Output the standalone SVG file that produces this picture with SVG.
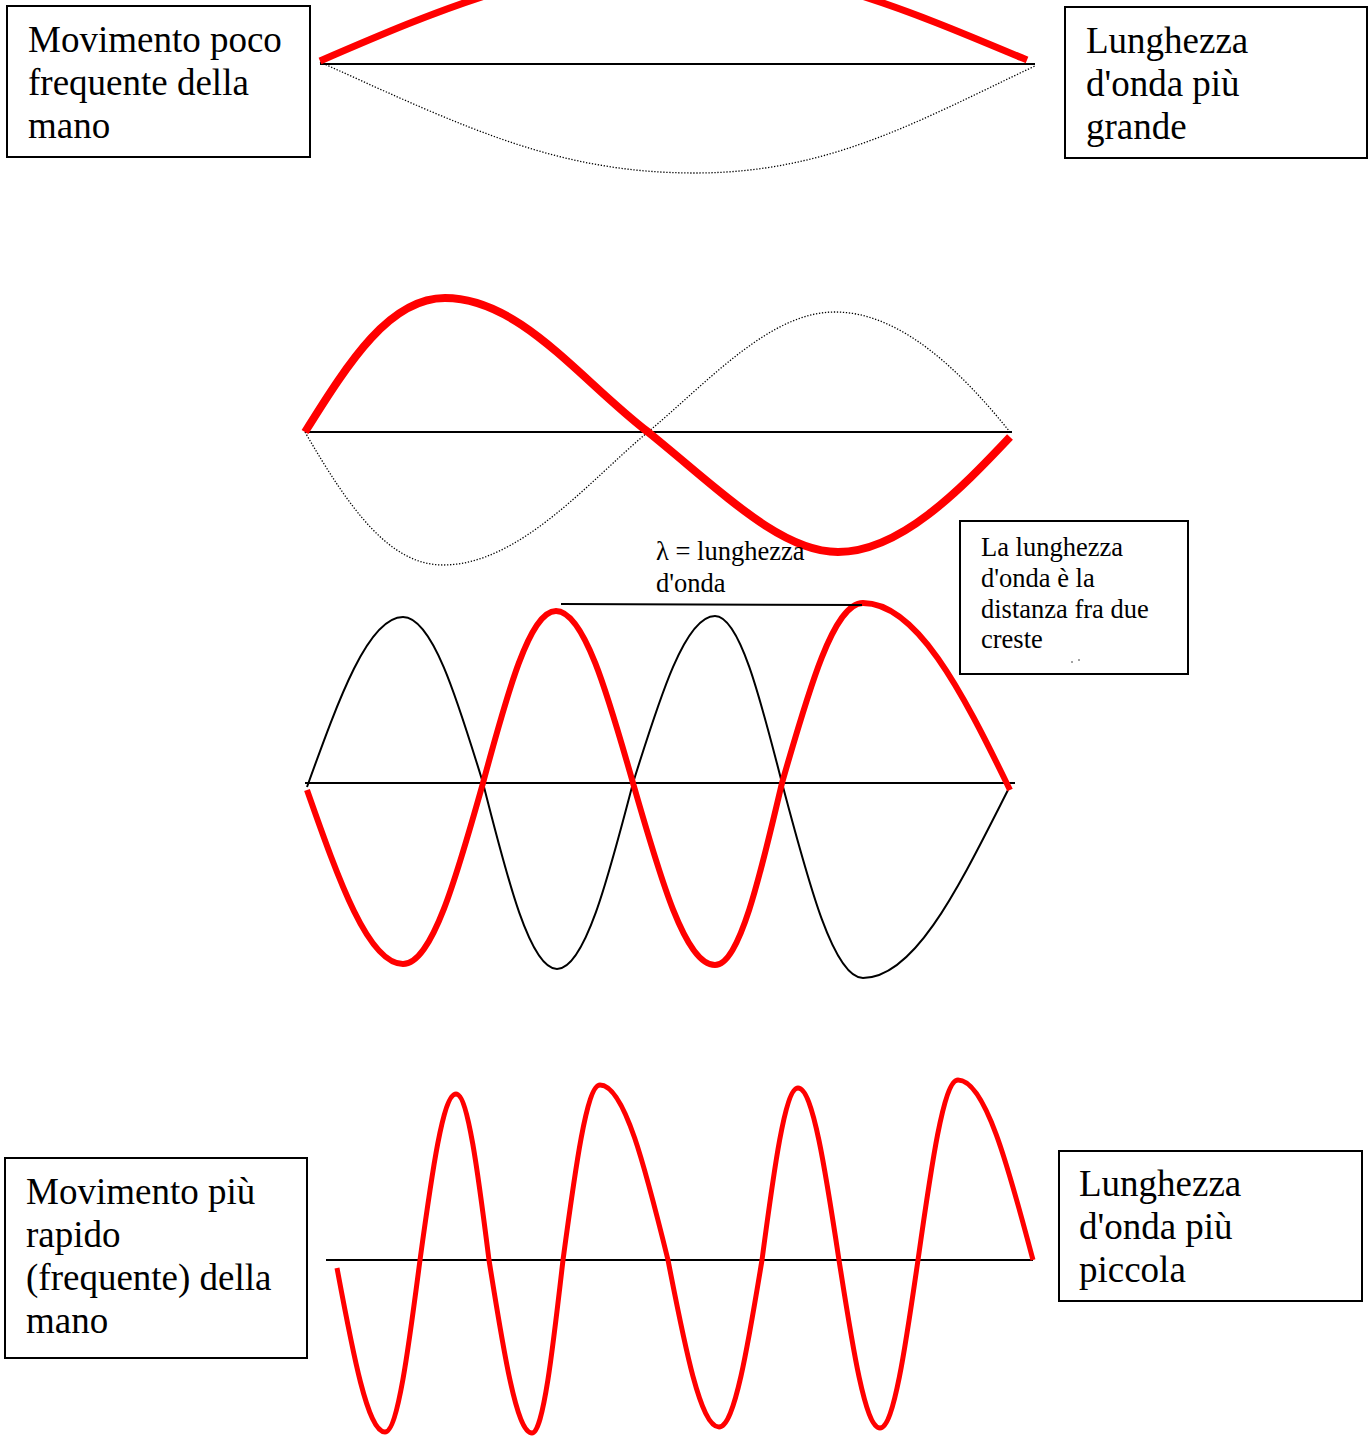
<svg xmlns="http://www.w3.org/2000/svg" width="1369" height="1436" viewBox="0 0 1369 1436">
<style>
.box{fill:#fff;stroke:#000;stroke-width:2}
.big{font-family:"Liberation Serif","Times New Roman",serif;font-size:37px;fill:#000}
.small{font-family:"Liberation Serif","Times New Roman",serif;font-size:26.5px;fill:#000}
.axis{stroke:#000;stroke-width:2;fill:none}
.red{stroke:#ff0000;fill:none;stroke-linejoin:round}
.blk{stroke:#000;stroke-width:2;fill:none}
.dot{stroke:#000;stroke-width:1.3;fill:none;stroke-dasharray:1.3 1.7}
</style>
<rect width="1369" height="1436" fill="#fff"/>
<g id="connectors">
  <!-- top section -->
  <line class="axis" x1="320" y1="64" x2="1035" y2="64"/>
  <path class="dot" d="M320,62 C470,130 560,173 695,173 C830,173 920,120 1035,66"/>
  <path class="red" stroke-width="7" d="M320,61 C438,10 545.6,-36 673,-36 C800.4,-36 908,10 1027,60"/>
  <!-- second section -->
  <line class="axis" x1="305" y1="432" x2="1012" y2="432"/>
  <path class="dot" d="M305,432 C350,510 390,565 443,565 C520,565 590,480 648,432 C710,380 770,312 835,312 C900,312 960,370 1010,432"/>
  <path class="red" stroke-width="8" d="M305,432 C350,360 390,298 445,298 C520,298 580,380 648,432 C720,490 780,552 838,552 C900,552 960,490 1010,437"/>
  <!-- third section -->
  <line class="axis" x1="305" y1="783" x2="1015" y2="783"/>
  <path class="blk" d="M307,787 C339.1,697.7 368.4,617 403,617 C431.9,617 456.3,695.8 483,783 C507.7,880.7 530.3,969 557,969 C584.4,969 607.6,880.7 633,783 C660.4,695.3 685.4,616 715,616 C739.2,616 759.6,695.3 782,783 C809.1,885.4 833.8,978 863,978 C915.3,978 959.5,885.4 1008,790"/>
  <path class="red" stroke-width="6" d="M307,790 C339.1,881.4 368.4,964 403,964 C431.9,964 456.3,878 483,783 C507.4,692.7 529.7,611 556,611 C583.8,611 607.3,692.7 633,783 C660.4,878.6 685.4,965 715,965 C739.2,965 759.6,878.6 782,783 C809.1,688.5 833.8,603 863,603 C916,603 960.9,688.5 1010,790"/>
  <line class="axis" x1="561" y1="604" x2="862" y2="605"/>
  <!-- bottom section -->
  <line class="axis" x1="326" y1="1260" x2="1033" y2="1260"/>
  <path class="red" stroke-width="5" d="M337,1268 C353,1354 367.7,1432 385,1432 C397.6,1432 408.3,1350.3 420,1260 C432,1172.8 443,1094 456,1094 C467.9,1094 478,1172.8 489,1260 C503.4,1350.8 516.5,1433 532,1433 C543.2,1433 552.6,1350.8 563,1260 C575.4,1168.1 586.7,1085 600,1085 C624.5,1085 645.3,1168.1 668,1260 C685,1347.7 700.6,1427 719,1427 C734.5,1427 747.6,1347.7 762,1260 C774,1169.7 785,1088 798,1088 C812.8,1088 825.3,1169.7 839,1260 C852.7,1348.2 865.2,1428 880,1428 C893.7,1428 905.3,1348.2 918,1260 C931.4,1165.5 943.6,1080 958,1080 C985,1080 1008,1165.5 1033,1260"/>
</g>
<g id="box-top-left">
  <rect class="box" x="7" y="6" width="303" height="151"/>
  <text class="big" x="28" y="52">Movimento poco</text>
  <text class="big" x="28" y="95">frequente della</text>
  <text class="big" x="28" y="138">mano</text>
</g>
<g id="box-top-right">
  <rect class="box" x="1065" y="7" width="302" height="151"/>
  <text class="big" x="1086" y="53">Lunghezza</text>
  <text class="big" x="1086" y="96">d'onda più</text>
  <text class="big" x="1086" y="139">grande</text>
</g>
<g id="label-lambda">
  <text class="small" x="656" y="560">λ = lunghezza</text>
  <text class="small" x="656" y="592">d'onda</text>
</g>
<g id="box-definition">
  <rect class="box" x="960" y="521" width="228" height="153"/>
  <text class="small" x="981" y="556">La lunghezza</text>
  <text class="small" x="981" y="587">d'onda è la</text>
  <text class="small" x="981" y="618">distanza fra due</text>
  <text class="small" x="981" y="648">creste</text>
  <circle cx="1072" cy="662" r="0.7" fill="#000"/>
  <circle cx="1079" cy="660" r="0.7" fill="#000"/>
</g>
<g id="box-bottom-left">
  <rect class="box" x="5" y="1158" width="302" height="200"/>
  <text class="big" x="26" y="1204">Movimento più</text>
  <text class="big" x="26" y="1247">rapido</text>
  <text class="big" x="26" y="1290">(frequente) della</text>
  <text class="big" x="26" y="1333">mano</text>
</g>
<g id="box-bottom-right">
  <rect class="box" x="1059" y="1151" width="303" height="150"/>
  <text class="big" x="1079" y="1196">Lunghezza</text>
  <text class="big" x="1079" y="1239">d'onda più</text>
  <text class="big" x="1079" y="1282">piccola</text>
</g>
</svg>
